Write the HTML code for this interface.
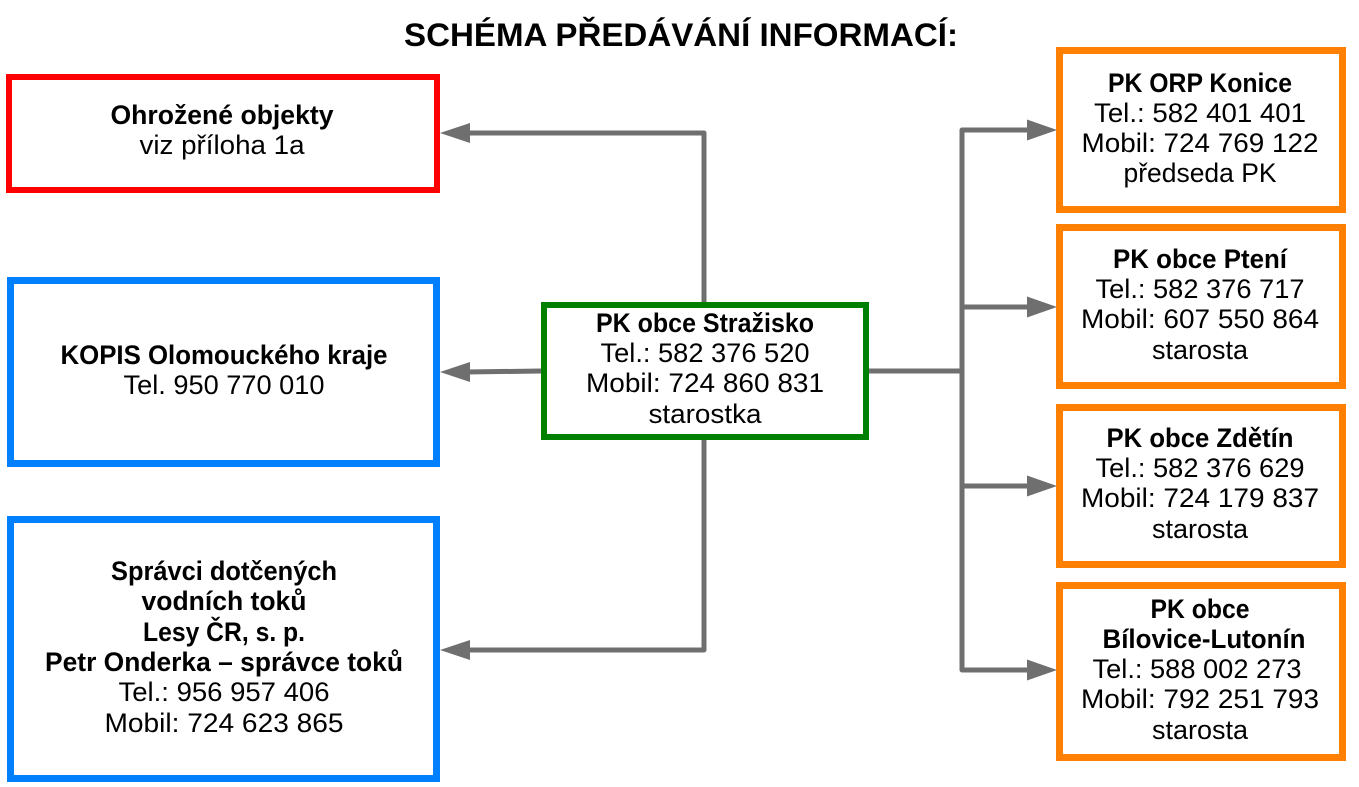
<!DOCTYPE html>
<html lang="cs">
<head>
<meta charset="utf-8">
<title>Schéma předávání informací</title>
<style>
  html, body { margin: 0; padding: 0; background: #ffffff; }
  body { width: 1359px; height: 787px; overflow: hidden; }
  svg { display: block; }
  text { font-family: "Liberation Sans", "DejaVu Sans", sans-serif; fill: #000; }
  .b { font-weight: bold; font-size: 27px; }
  .n { font-weight: normal; font-size: 27px; }
  .t { font-weight: bold; font-size: 32px; }
</style>
</head>
<body>
<svg width="1359" height="787" viewBox="0 0 1359 787" xmlns="http://www.w3.org/2000/svg">
  <rect x="0" y="0" width="1359" height="787" fill="#ffffff"/>

  <!-- Title -->
  <text class="t" x="681" y="46" text-anchor="middle" textLength="554" lengthAdjust="spacingAndGlyphs">SCHÉMA PŘEDÁVÁNÍ INFORMACÍ:</text>

  <!-- Connectors -->
  <g stroke="#6f6f6f" stroke-width="5" fill="none" stroke-linejoin="round">
    <polyline points="704,302 704,133 466,133"/>
    <polyline points="704,440 704,650 466,650"/>
    <line x1="541" y1="371" x2="466" y2="372"/>
    <line x1="869" y1="371" x2="962" y2="371"/>
    <polyline points="1030,130 962,130 962,670 1030,670"/>
    <line x1="962" y1="307" x2="1030" y2="307"/>
    <line x1="962" y1="486" x2="1030" y2="486"/>
  </g>
  <g fill="#6f6f6f">
    <polygon points="440,133 470,123 470,143"/>
    <polygon points="440,650 470,640 470,660"/>
    <polygon points="440,372 470,362 470,382"/>
    <polygon points="1057,130 1027,119.5 1027,140.5"/>
    <polygon points="1057,307 1027,296.5 1027,317.5"/>
    <polygon points="1057,486 1027,475.5 1027,496.5"/>
    <polygon points="1057,670 1027,659.5 1027,680.5"/>
  </g>

  <!-- Red box -->
  <rect x="9" y="77" width="428" height="113" fill="#fff" stroke="#ff0000" stroke-width="6"/>
  <text class="b" x="222" y="124" text-anchor="middle" textLength="223" lengthAdjust="spacingAndGlyphs">Ohrožené objekty</text>
  <text class="n" x="222" y="154" text-anchor="middle" textLength="165" lengthAdjust="spacingAndGlyphs">viz příloha 1a</text>

  <!-- Blue box 1 -->
  <rect x="10.5" y="280.5" width="426" height="183" fill="#fff" stroke="#0080ff" stroke-width="7"/>
  <text class="b" x="224" y="364" text-anchor="middle" textLength="327" lengthAdjust="spacingAndGlyphs">KOPIS Olomouckého kraje</text>
  <text class="n" x="224" y="394" text-anchor="middle" textLength="201" lengthAdjust="spacingAndGlyphs">Tel. 950 770 010</text>

  <!-- Blue box 2 -->
  <rect x="10.5" y="519.5" width="426" height="259" fill="#fff" stroke="#0080ff" stroke-width="7"/>
  <text class="b" x="224" y="580" text-anchor="middle" textLength="226" lengthAdjust="spacingAndGlyphs">Správci dotčených</text>
  <text class="b" x="224" y="610" text-anchor="middle" textLength="165" lengthAdjust="spacingAndGlyphs">vodních toků</text>
  <text class="b" x="224" y="641" text-anchor="middle" textLength="162" lengthAdjust="spacingAndGlyphs">Lesy ČR, s. p.</text>
  <text class="b" x="224" y="671" text-anchor="middle" textLength="358" lengthAdjust="spacingAndGlyphs">Petr Onderka – správce toků</text>
  <text class="n" x="224" y="701" text-anchor="middle" textLength="211" lengthAdjust="spacingAndGlyphs">Tel.: 956 957 406</text>
  <text class="n" x="224" y="732" text-anchor="middle" textLength="239" lengthAdjust="spacingAndGlyphs">Mobil: 724 623 865</text>

  <!-- Green box -->
  <rect x="544" y="305" width="322" height="132" fill="#fff" stroke="#008000" stroke-width="6"/>
  <text class="b" x="705" y="332" text-anchor="middle" textLength="218" lengthAdjust="spacingAndGlyphs">PK obce Stražisko</text>
  <text class="n" x="705" y="362" text-anchor="middle" textLength="209" lengthAdjust="spacingAndGlyphs">Tel.: 582 376 520</text>
  <text class="n" x="705" y="392" text-anchor="middle" textLength="238" lengthAdjust="spacingAndGlyphs">Mobil: 724 860 831</text>
  <text class="n" x="705" y="423" text-anchor="middle" textLength="113" lengthAdjust="spacingAndGlyphs">starostka</text>

  <!-- Orange box 1 -->
  <rect x="1059.5" y="50.5" width="283" height="159" fill="#fff" stroke="#ff8000" stroke-width="7"/>
  <text class="b" x="1200" y="92" text-anchor="middle" textLength="184" lengthAdjust="spacingAndGlyphs">PK ORP Konice</text>
  <text class="n" x="1200" y="122" text-anchor="middle" textLength="212" lengthAdjust="spacingAndGlyphs">Tel.: 582 401 401</text>
  <text class="n" x="1200" y="152" text-anchor="middle" textLength="237" lengthAdjust="spacingAndGlyphs">Mobil: 724 769 122</text>
  <text class="n" x="1200" y="182" text-anchor="middle" textLength="153" lengthAdjust="spacingAndGlyphs">předseda PK</text>

  <!-- Orange box 2 -->
  <rect x="1059.5" y="227.5" width="283" height="158" fill="#fff" stroke="#ff8000" stroke-width="7"/>
  <text class="b" x="1200" y="268" text-anchor="middle" textLength="174" lengthAdjust="spacingAndGlyphs">PK obce Ptení</text>
  <text class="n" x="1200" y="298" text-anchor="middle" textLength="209" lengthAdjust="spacingAndGlyphs">Tel.: 582 376 717</text>
  <text class="n" x="1200" y="328" text-anchor="middle" textLength="238" lengthAdjust="spacingAndGlyphs">Mobil: 607 550 864</text>
  <text class="n" x="1200" y="359" text-anchor="middle" textLength="96" lengthAdjust="spacingAndGlyphs">starosta</text>

  <!-- Orange box 3 -->
  <rect x="1059.5" y="407.5" width="283" height="157" fill="#fff" stroke="#ff8000" stroke-width="7"/>
  <text class="b" x="1200" y="447" text-anchor="middle" textLength="187" lengthAdjust="spacingAndGlyphs">PK obce Zdětín</text>
  <text class="n" x="1200" y="477" text-anchor="middle" textLength="209" lengthAdjust="spacingAndGlyphs">Tel.: 582 376 629</text>
  <text class="n" x="1200" y="507" text-anchor="middle" textLength="238" lengthAdjust="spacingAndGlyphs">Mobil: 724 179 837</text>
  <text class="n" x="1200" y="538" text-anchor="middle" textLength="96" lengthAdjust="spacingAndGlyphs">starosta</text>

  <!-- Orange box 4 -->
  <rect x="1059.5" y="585.5" width="283" height="172" fill="#fff" stroke="#ff8000" stroke-width="7"/>
  <text class="b" x="1200" y="618" text-anchor="middle" textLength="99" lengthAdjust="spacingAndGlyphs">PK obce</text>
  <text class="b" x="1204" y="648" text-anchor="middle" textLength="203" lengthAdjust="spacingAndGlyphs">Bílovice-Lutonín</text>
  <text class="n" x="1197" y="678" text-anchor="middle" textLength="209" lengthAdjust="spacingAndGlyphs">Tel.: 588 002 273</text>
  <text class="n" x="1200" y="708" text-anchor="middle" textLength="238" lengthAdjust="spacingAndGlyphs">Mobil: 792 251 793</text>
  <text class="n" x="1200" y="739" text-anchor="middle" textLength="96" lengthAdjust="spacingAndGlyphs">starosta</text>
</svg>
</body>
</html>
